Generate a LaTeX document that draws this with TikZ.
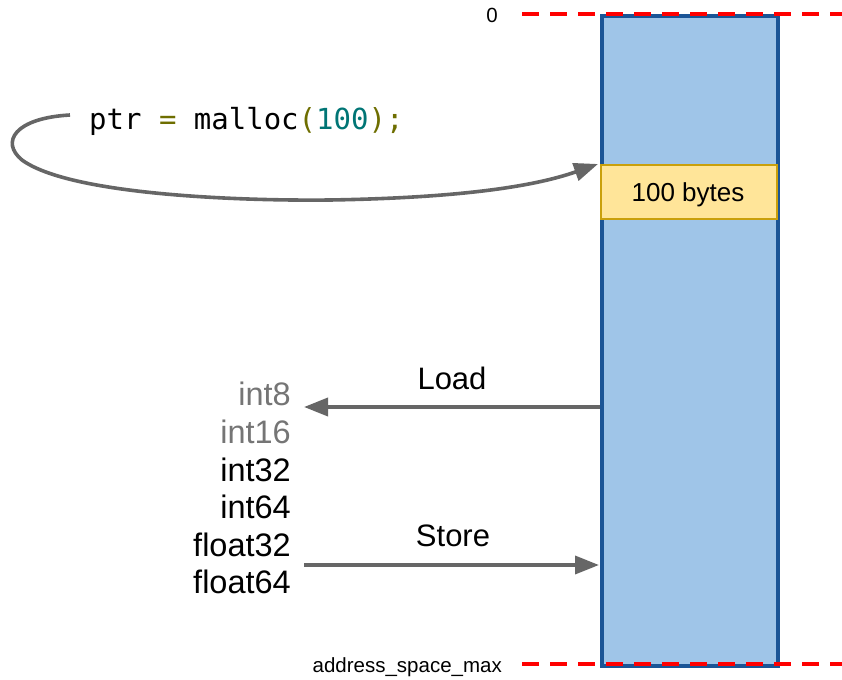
\documentclass[tikz,border=0pt]{standalone}
\usepackage{fontspec}
\setmainfont{Liberation Sans}
\newfontfamily\codefont{DejaVu Sans Mono}
\usetikzlibrary{arrows.meta}
\definecolor{memfill}{HTML}{9FC5E8}
\definecolor{memedge}{HTML}{1B5596}
\definecolor{blockfill}{HTML}{FFE599}
\definecolor{blockedge}{HTML}{C9A00C}
\definecolor{arrowgray}{HTML}{666666}
\definecolor{softgray}{HTML}{757575}
\definecolor{kwolive}{HTML}{6E6E00}
\definecolor{numteal}{HTML}{007575}
\tikzset{
  flow/.style={draw=arrowgray, line width=3.6pt, -{Triangle[length=24pt,width=18pt]}},
  bound/.style={draw=red, line width=3.6pt, dash pattern=on 17pt off 11pt},
  typelabel/.style={anchor=base east, inner sep=0pt, font=\fontsize{32.5}{32.5}\selectfont},
  oplabel/.style={anchor=base, inner sep=0pt, font=\fontsize{31}{31}\selectfont},
  addrlabel/.style={inner sep=0pt, font=\fontsize{20.5}{20.5}\selectfont}
}
\begin{document}
\begin{tikzpicture}[x=1pt,y=-1pt]
\useasboundingbox (0,0) rectangle (842,679);
% address space column
\node (mem) [draw=memedge, fill=memfill, line width=3.8pt, minimum width=176pt, minimum height=650pt, inner sep=0pt, anchor=north west] at (600,14) {};
% allocated block
\node (blk) [draw=blockedge, fill=blockfill, line width=2.2pt, minimum width=176pt, minimum height=54pt, inner sep=0pt, anchor=north west] at (600,164) {};
\node (blktext) [anchor=base, inner sep=0pt, font=\fontsize{26}{26}\selectfont] at (688,201) {100 bytes};
% address bounds
\coordinate (topL) at (522,14);
\coordinate (topR) at (842,14);
\coordinate (botL) at (522,664);
\coordinate (botR) at (842,664);
\draw[bound] (topL) -- (topR);
\draw[bound] (botL) -- (botR);
\node (zero) [addrlabel, anchor=base east] at (498,23) {0};
\node (amax) [addrlabel, anchor=base east] at (502,672) {address\_space\_max};
% allocation call
\node (code) [anchor=base west, inner sep=0pt, font=\codefont\fontsize{29}{29}\selectfont] at (89,130)
  {ptr \textcolor{kwolive}{=} malloc\textcolor{kwolive}{(}\textcolor{numteal}{100}\textcolor{kwolive}{)}\textcolor{kwolive}{;}};
\coordinate (cstart) at (70,115);
\coordinate (ctip) at (598,164);
\draw[flow] (cstart) .. controls (15,118) and (0,142) .. (22,160)
  .. controls (70,195) and (240,201) .. (330,200)
  .. controls (450,198) and (530,188) .. (ctip);
% element types
\node (t8)  [typelabel, text=softgray] at (291,405) {int8};
\node (t16) [typelabel, text=softgray] at (291,443) {int16};
\node (t32) [typelabel] at (291,481) {int32};
\node (t64) [typelabel] at (291,518) {int64};
\node (f32) [typelabel] at (291,556) {float32};
\node (f64) [typelabel] at (291,593) {float64};
% load / store
\coordinate (loadfrom) at (600,407);
\coordinate (loadto) at (304,407);
\coordinate (storefrom) at (304,565);
\coordinate (storeto) at (599,565);
\draw[flow] (loadfrom) -- (loadto);
\draw[flow] (storefrom) -- (storeto);
\node (load) [oplabel] at (452,389) {Load};
\node (store) [oplabel] at (453,546) {Store};
\end{tikzpicture}
\end{document}
